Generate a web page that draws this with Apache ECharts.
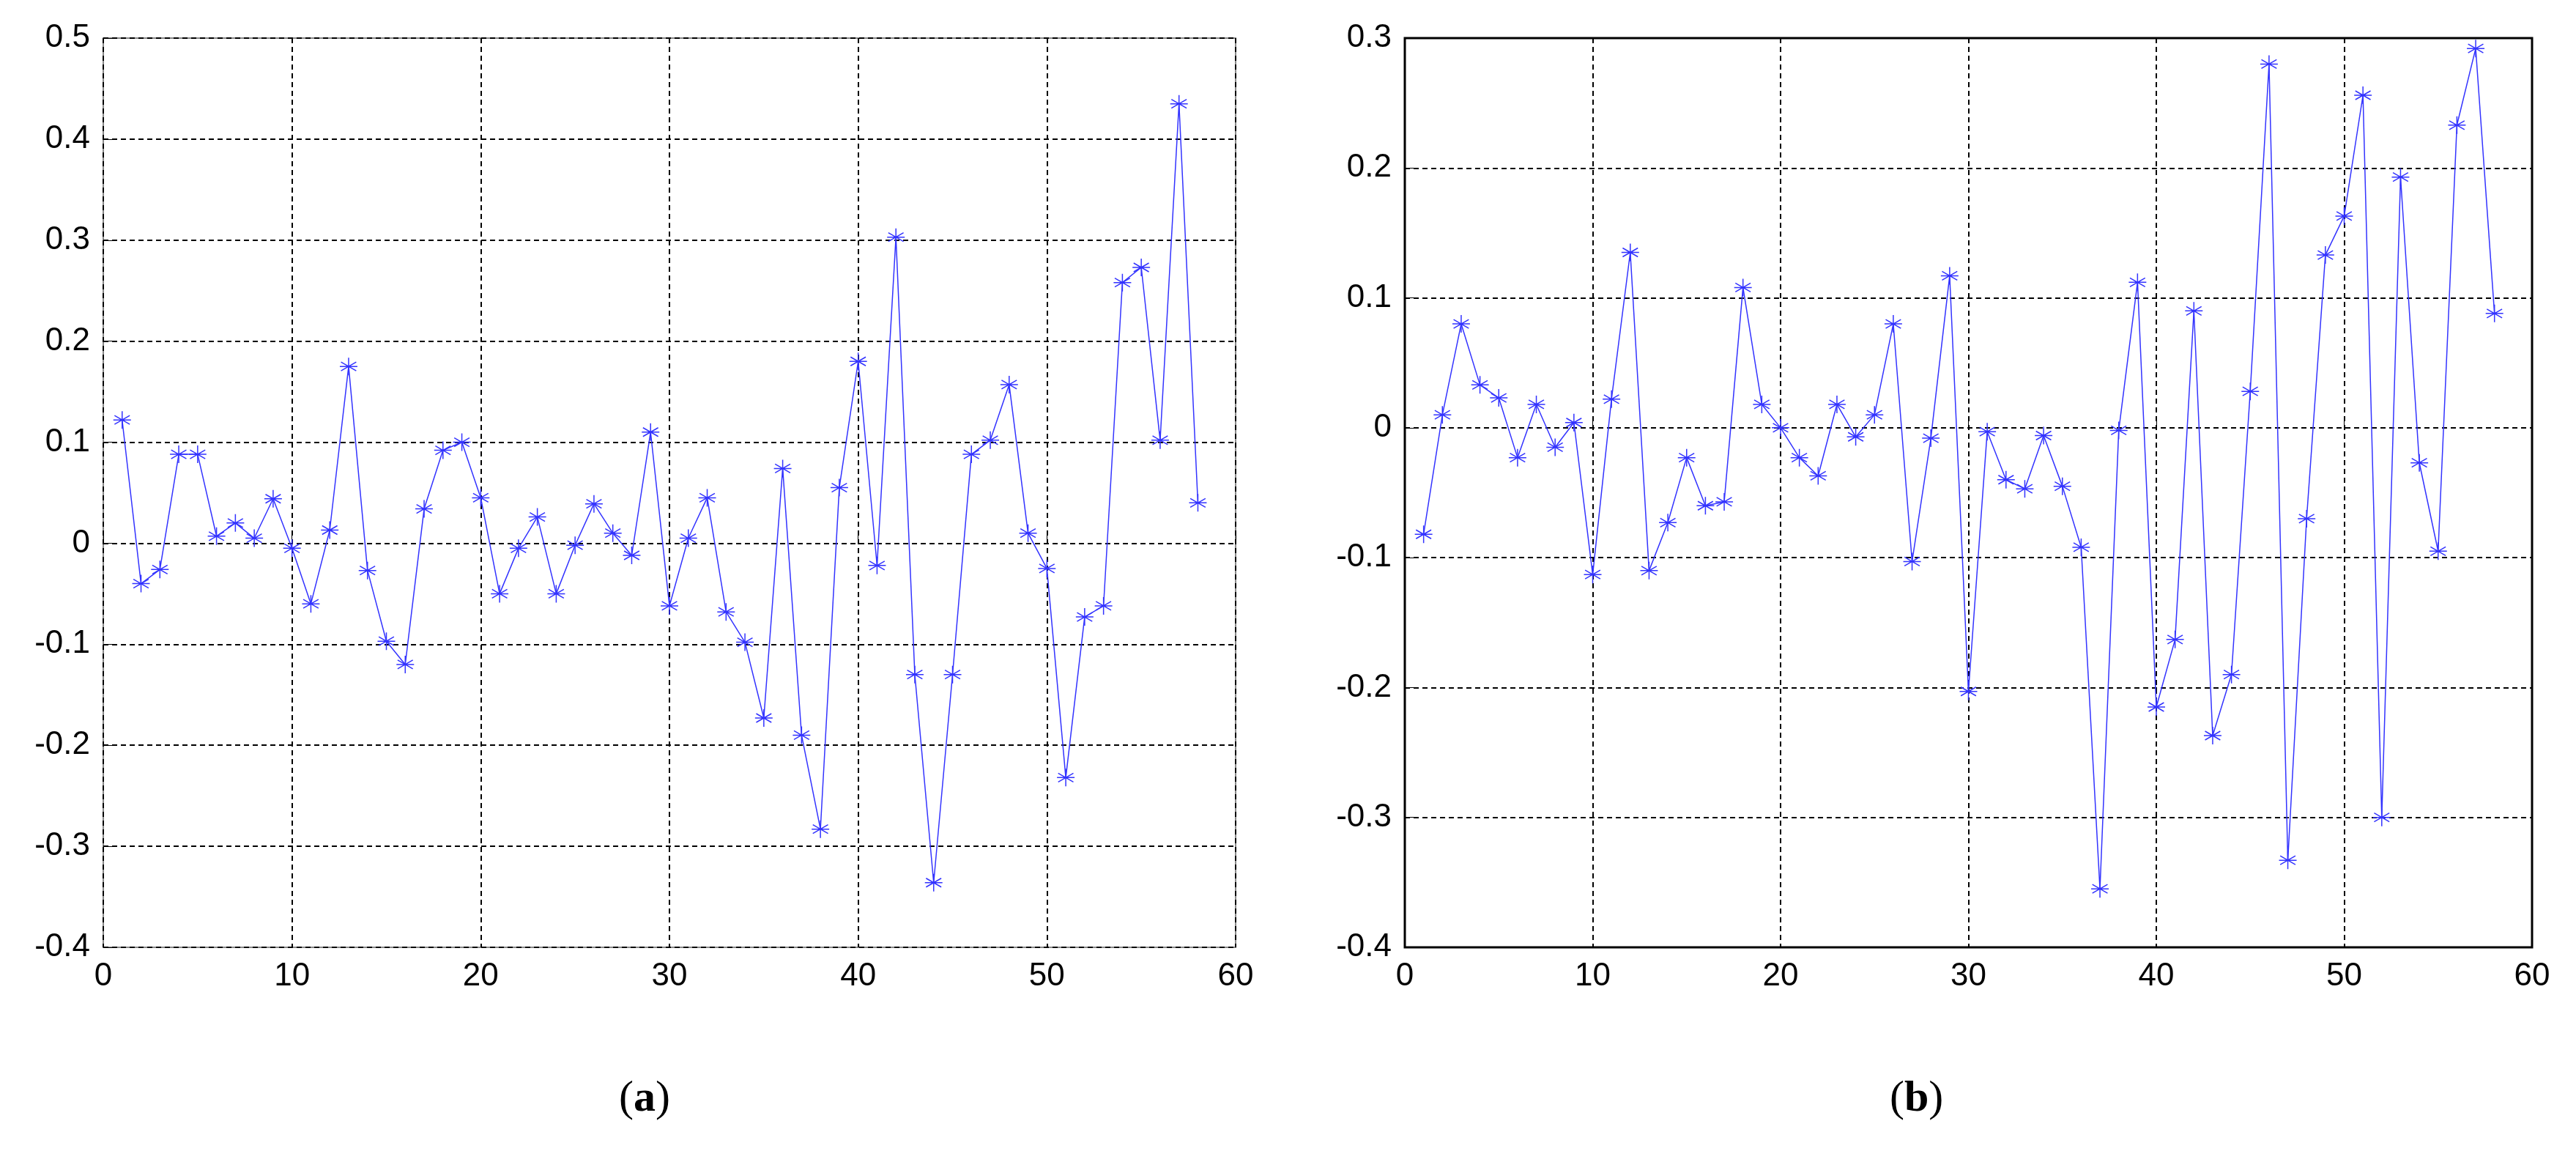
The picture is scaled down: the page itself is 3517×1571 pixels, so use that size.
<!DOCTYPE html>
<html><head><meta charset="utf-8">
<script src="https://cdn.jsdelivr.net/npm/echarts@6/dist/echarts.min.js"></script>
<style>html,body{margin:0;padding:0;background:#fff}#c{width:3517px;height:1571px}</style>
</head><body><div id="c"></div>
<script>
const xValues = Array.from({length:58},(_,i)=>i+1);
const seriesA = [0.122,-0.04,-0.026,0.088,0.088,0.007,0.02,0.005,0.044,-0.005,-0.06,0.013,0.175,-0.027,-0.097,-0.12,0.034,0.092,0.1,0.045,-0.05,-0.005,0.026,-0.05,-0.002,0.039,0.01,-0.012,0.11,-0.062,0.005,0.045,-0.068,-0.098,-0.173,0.074,-0.19,-0.283,0.055,0.18,-0.022,0.303,-0.13,-0.336,-0.13,0.088,0.102,0.157,0.01,-0.025,-0.232,-0.073,-0.062,0.258,0.273,0.102,0.435,0.04];
const seriesB = [-0.082,0.01,0.08,0.033,0.023,-0.023,0.018,-0.015,0.004,-0.113,0.022,0.135,-0.11,-0.073,-0.023,-0.06,-0.057,0.108,0.018,0,-0.023,-0.037,0.018,-0.007,0.01,0.08,-0.103,-0.008,0.117,-0.203,-0.003,-0.04,-0.047,-0.006,-0.045,-0.092,-0.355,-0.002,0.112,-0.215,-0.163,0.09,-0.237,-0.19,0.028,0.28,-0.333,-0.07,0.133,0.163,0.256,-0.3,0.193,-0.027,-0.095,0.233,0.292,0.088];
const panelLabels = ['a','b'];

const star = 'path://M0,-10L0,10M-8.66,-5L8.66,5M-8.66,5L8.66,-5M-10,0L10,0';
const chart = echarts.init(document.getElementById('c'));
const grids = [
  {left:141, top:52, width:1546, height:1241, show:true, borderColor:'#888', borderWidth:2},
  {left:1918, top:52, width:1539, height:1241, show:true, borderColor:'#000', borderWidth:3}
];
const lbl = {color:'#000', fontFamily:'Liberation Sans, Arial', fontSize:44, margin:18};
const dash = {show:true, lineStyle:{color:'#000', type:[7,5], width:2}};
const xAxes = grids.map((g,i)=>({gridIndex:i, type:'value', min:0, max:60, interval:10,
  axisLine:{show:false}, axisTick:{show:true, inside:true, length:12, lineStyle:{color:'#000'}},
  axisLabel:lbl, splitLine:dash}));
const yAxes = [
  {gridIndex:0, type:'value', min:-0.4, max:0.5, interval:0.1},
  {gridIndex:1, type:'value', min:-0.4, max:0.3, interval:0.1}
].map(a=>Object.assign(a,{axisLine:{show:false}, axisTick:{show:true, inside:true, length:12, lineStyle:{color:'#000'}},
  axisLabel:Object.assign({},lbl,{formatter:v=>{const r=Math.round(v*10)/10;return r===0?'0':String(r);}}), splitLine:dash}));
const mk = (data,i)=>({type:'line', xAxisIndex:i, yAxisIndex:i, data:xValues.map((x,k)=>[x,data[k]]),
  symbol:star, symbolSize:24, lineStyle:{color:'#3333ff', width:1.5},
  itemStyle:{color:'rgba(0,0,0,0)', borderColor:'#3333ff', borderWidth:1.5}, animation:false});
chart.setOption({
  animation:false,
  grid:grids, xAxis:xAxes, yAxis:yAxes,
  series:[mk(seriesA,0), mk(seriesB,1)],
  graphic:panelLabels.map((p,i)=>({type:'text', left: i===0?845:2580, top:1470,
    style:{text:'{n|(}{b|'+p+'}{n|)}', rich:{n:{fontSize:60,fontFamily:'Liberation Serif'},b:{fontSize:60,fontWeight:'bold',fontFamily:'Liberation Serif'}}}}))
});
</script></body></html>
